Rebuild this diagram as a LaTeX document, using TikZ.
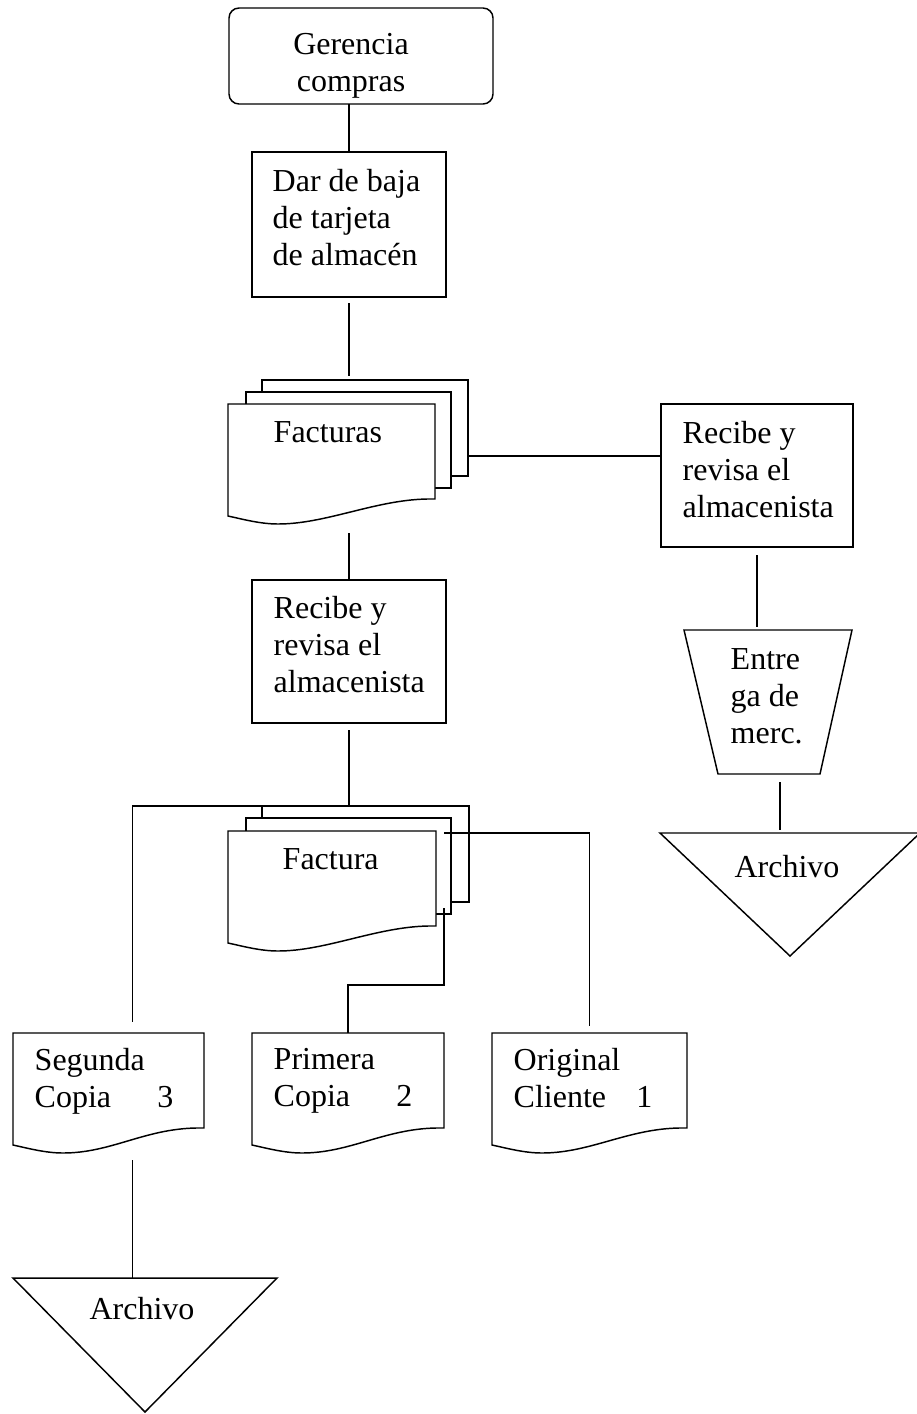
\documentclass[tikz,border=0pt]{standalone}
\usepackage{fontspec}
\setmainfont{Liberation Serif}
\usetikzlibrary{calc}

\newcommand{\pxu}{0.375pt}
% hoja de documento con borde ondulado abajo
\newcommand{\docshape}[2][]{%
 \draw[#1] (#2.north west) -- (#2.north east) -- (#2.south east) -- ++(-8,0)
   .. controls +(-52,1) and +(48,0) .. ([shift={(50,25)}]#2.south west)
   .. controls +(-18,0) and +(14,3) .. ([shift={(0,17)}]#2.south west) -- cycle;}

\tikzset{
  boxsize/.style 2 args={minimum width=#1*\pxu, minimum height=#2*\pxu},
  holder/.style={inner sep=0pt, outer sep=0pt},
  procbox/.style={holder, draw},
  sheet/.style={holder, draw, fill=white},
  txt/.style={anchor=north west, inner sep=0pt, align=left, execute at begin node=\strut},
  ctxt/.style={anchor=north, inner sep=0pt, align=center, execute at begin node=\strut},
}

\begin{document}
\begin{tikzpicture}[x=\pxu, y=-\pxu, line width=0.55pt, font=\fontsize{12}{13.8}\selectfont]
\useasboundingbox (0,0) rectangle (916,1414);
% cabecera
\node[procbox, rounded corners=3.75pt, boxsize={264}{96}] (ger) at (361,56) {};
\node[ctxt] (gertxt) at ([shift={(-10,25)}]ger.north) {Gerencia\\compras};
\node[procbox, boxsize={194}{145}] (baja) at (349,224.5) {};
\node[txt] (bajatxt) at ([shift={(20,17)}]baja.north west) {Dar de baja\\de tarjeta\\de almacén};
% facturas
\node[sheet, boxsize={206}{96}] (facs3) at (365,428) {};
\node[sheet, boxsize={205}{96}] (facs2) at (348.5,440) {};
\node[holder, boxsize={207}{95}] (facs) at (331.5,451.5) {};
\docshape[fill=white]{facs}
\node[txt] (facstxt) at ([shift={(45,12)}]facs.north west) {Facturas};
% rama derecha
\node[procbox, boxsize={192}{143}] (rec1) at (757,475.5) {};
\node[txt] (rec1txt) at ([shift={(21,17)}]rec1.north west) {Recibe y\\revisa el\\almacenista};
\node[holder, boxsize={168}{144}] (trap) at (768,702) {};
\draw (trap.north west) -- (trap.north east) -- ([shift={(-32,0)}]trap.south east)
  -- ([shift={(34,0)}]trap.south west) -- cycle;
\node[txt] (traptxt) at ([shift={(46,18)}]trap.north west) {Entre\\ga de\\merc.};
\node[holder, boxsize={260}{123}] (arch1) at (790,894.5) {};
\draw (arch1.north west) -- (arch1.north east) -- (arch1.south) -- cycle;
\node[ctxt] (arch1txt) at ([shift={(-3,18)}]arch1.north) {Archivo};
% rama central
\node[procbox, boxsize={194}{143}] (rec2) at (349,651.5) {};
\node[txt] (rec2txt) at ([shift={(21,16)}]rec2.north west) {Recibe y\\revisa el\\almacenista};
\node[sheet, boxsize={207}{96}] (fac3) at (365.5,854) {};
\node[sheet, boxsize={205}{96}] (fac2) at (348.5,866) {};
\node[holder, boxsize={208}{95}] (fac) at (332,878.5) {};
\docshape[fill=white]{fac}
\node[txt] (factxt) at ([shift={(54,12)}]fac.north west) {Factura};
% copias
\foreach \n/\cx/\bw/\lineA/\lineB/\digit in {seg/108.5/191/Segunda/Copia/3,
    prim/348/192/Primera/Copia/2, orig/589.5/195/Original/Cliente/1} {
  \node[holder, boxsize={\bw}{95}] (\n) at (\cx,1080.5) {};
  \docshape{\n}
  \node[txt] (\n-txt) at ([shift={(21,15)}]\n.north west) {\lineA\\\makebox[46pt][l]{\lineB}\digit};
}
\node[holder, boxsize={264}{134}] (arch2) at (145,1345) {};
\draw (arch2.north west) -- (arch2.north east) -- (arch2.south) -- cycle;
\node[ctxt] (arch2txt) at ([shift={(-3,15)}]arch2.north) {Archivo};
% conectores
\draw (baja.north |- ger.south) -- (baja.north);
\draw[shorten <=6*\pxu, shorten >=4*\pxu] (baja.south) -- (baja.south |- facs3.north);
\draw ([shift={(0,28)}]facs3.east) -- ([shift={(0,28)}]facs3.east -| rec1.west);
\draw[shorten <=34*\pxu] (rec2.north |- facs.south) -- (rec2.north);
\draw[shorten <=8*\pxu, shorten >=3*\pxu] (rec1.south) -- (rec1.south |- trap.north);
\draw[shorten <=8*\pxu, shorten >=3*\pxu] ([shift={(12,0)}]trap.south)
  -- ([shift={(12,0)}]trap.south |- arch1.north);
\draw[shorten <=7*\pxu] (rec2.south) -- (rec2.south |- fac3.north);
\draw[shorten >=11*\pxu] (fac3.north west) -| ([shift={(24,0)}]seg.north);
\draw[shorten >=7*\pxu] ([shift={(8,2)}]fac.north east) -| (orig.north);
\draw ([shift={(8,-18)}]fac.south east) -- ++(0,77) -| (prim.north);
\draw[shorten <=32*\pxu] ([shift={(24,0)}]seg.south) -- ([shift={(24,0)}]seg.south |- arch2.north);
\end{tikzpicture}
\end{document}
